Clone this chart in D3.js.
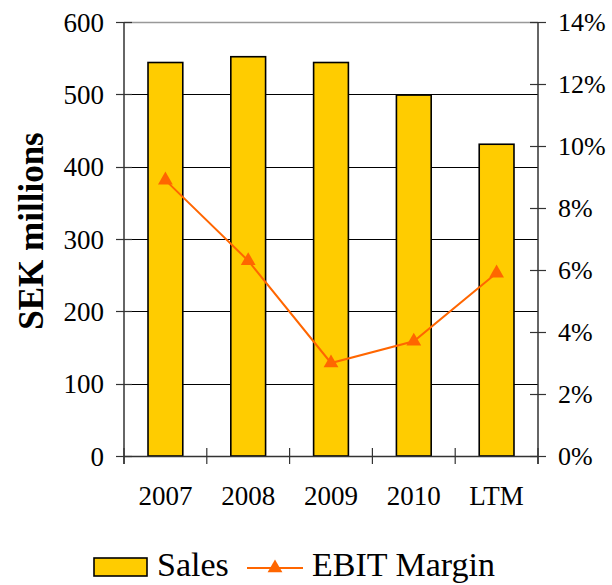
<!DOCTYPE html>
<html>
<head>
<meta charset="utf-8">
<script src="https://cdn.jsdelivr.net/npm/d3@7"></script>
<style>
  html, body { margin: 0; padding: 0; background: #fff; }
  svg { display: block; }
  text { font-family: "Liberation Serif", "DejaVu Serif", serif; fill: #000; }
</style>
</head>
<body>
<svg id="chart" width="612" height="585"></svg>
<script>
// Sales (SEK millions) and EBIT margin by period
const categories = ["2007", "2008", "2009", "2010", "LTM"];
const sales = [544, 552, 544, 499, 431];
const ebitMargin = [0.089, 0.063, 0.030, 0.037, 0.059];
const salesTicks = [0, 100, 200, 300, 400, 500, 600];
const marginTicks = [0, 0.02, 0.04, 0.06, 0.08, 0.10, 0.12, 0.14];

const svg = d3.select("#chart");
const plotLeft = 124, plotRight = 538, plotTop = 22, plotBottom = 456;

const x = d3.scaleBand().domain(categories).range([plotLeft, plotRight])
  .paddingInner(0.58).paddingOuter(0.29);
const xStep = d3.scaleBand().domain(categories).range([plotLeft, plotRight]).padding(0);
const y = d3.scaleLinear().domain([0, 600]).range([plotBottom, plotTop]);
const y2 = d3.scaleLinear().domain([0, 0.14]).range([plotBottom, plotTop]);

// horizontal gridlines
svg.append("g").selectAll("line").data(salesTicks.filter(d => d > 0)).join("line")
  .attr("x1", plotLeft).attr("x2", plotRight)
  .attr("y1", d => Math.round(y(d)) + 0.5).attr("y2", d => Math.round(y(d)) + 0.5)
  .attr("stroke", d => d === 600 ? "#999" : "#000")
  .attr("stroke-width", d => d === 600 ? 1.5 : 1);

// sales bars
svg.append("g").selectAll("rect").data(categories).join("rect")
  .attr("x", d => x(d))
  .attr("width", x.bandwidth())
  .attr("y", (d, i) => y(sales[i]))
  .attr("height", (d, i) => plotBottom - y(sales[i]))
  .attr("fill", "#FFCC00")
  .attr("stroke", "#000")
  .attr("stroke-width", 1.6);

// left axis
const leftAxis = svg.append("g").attr("transform", `translate(${plotLeft},0)`)
  .call(d3.axisLeft(y).tickValues(salesTicks).tickSize(0).tickPadding(20));
leftAxis.select(".domain").remove();
leftAxis.selectAll("text").style("font-size", "27px").attr("dy", "0.34em");
svg.append("line").attr("x1", plotLeft).attr("x2", plotLeft).attr("y1", plotTop).attr("y2", plotBottom + 8)
  .attr("stroke", "#333").attr("stroke-width", 1.5);
svg.append("g").selectAll("line").data(salesTicks).join("line")
  .attr("x1", plotLeft - 8).attr("x2", plotLeft + 8)
  .attr("y1", d => Math.round(y(d)) + 0.5).attr("y2", d => Math.round(y(d)) + 0.5)
  .attr("stroke", "#333").attr("stroke-width", 1.2);

// right axis
const rightAxis = svg.append("g").attr("transform", `translate(${plotRight},0)`)
  .call(d3.axisRight(y2).tickValues(marginTicks).tickSize(0).tickPadding(20)
    .tickFormat(d3.format(".0%")));
rightAxis.select(".domain").remove();
rightAxis.selectAll("text").style("font-size", "26px").attr("dy", "0.34em");
svg.append("line").attr("x1", plotRight).attr("x2", plotRight).attr("y1", plotTop).attr("y2", plotBottom + 8)
  .attr("stroke", "#333").attr("stroke-width", 1.5);
svg.append("g").selectAll("line").data(marginTicks).join("line")
  .attr("x1", plotRight - 8).attr("x2", plotRight + 8)
  .attr("y1", d => Math.round(y2(d)) + 0.5).attr("y2", d => Math.round(y2(d)) + 0.5)
  .attr("stroke", "#333").attr("stroke-width", 1.2);

// category axis
svg.append("line").attr("x1", plotLeft).attr("x2", plotRight)
  .attr("y1", plotBottom + 0.5).attr("y2", plotBottom + 0.5)
  .attr("stroke", "#333").attr("stroke-width", 1.5);
const boundaries = categories.map(c => xStep(c)).concat([plotRight]);
svg.append("g").selectAll("line").data(boundaries).join("line")
  .attr("x1", d => d).attr("x2", d => d)
  .attr("y1", plotBottom - 8).attr("y2", plotBottom + 8)
  .attr("stroke", "#333").attr("stroke-width", 1.2);
svg.append("g").selectAll("text").data(categories).join("text")
  .attr("x", d => x(d) + x.bandwidth() / 2)
  .attr("y", 505)
  .attr("text-anchor", "middle")
  .style("font-size", "27px")
  .text(d => d);

// EBIT margin line with triangle markers
const cx = d => x(d) + x.bandwidth() / 2;
const line = d3.line().x(d => cx(d.c)).y(d => y2(d.v));
const pts = categories.map((c, i) => ({ c, v: ebitMargin[i] }));
svg.append("path").datum(pts)
  .attr("d", line)
  .attr("fill", "none")
  .attr("stroke", "#FF6600")
  .attr("stroke-width", 2);
const tri = d3.symbol().type(d3.symbolTriangle).size(95);
svg.append("g").selectAll("path").data(pts).join("path")
  .attr("transform", d => `translate(${cx(d.c)},${y2(d.v)})`)
  .attr("d", tri)
  .attr("fill", "#FF6600");

// y-axis title
svg.append("text")
  .attr("transform", "translate(43,231) rotate(-90)")
  .attr("text-anchor", "middle")
  .style("font-size", "35px")
  .style("font-weight", "bold")
  .text("SEK millions");

// legend
const lg = svg.append("g");
lg.append("rect").attr("x", 94).attr("y", 558).attr("width", 53).attr("height", 18)
  .attr("fill", "#FFCC00").attr("stroke", "#000").attr("stroke-width", 1.6);
lg.append("text").attr("x", 157).attr("y", 576).style("font-size", "34px").text("Sales");
lg.append("line").attr("x1", 247).attr("x2", 303).attr("y1", 568).attr("y2", 568)
  .attr("stroke", "#FF6600").attr("stroke-width", 2);
lg.append("path").attr("transform", "translate(275,568)").attr("d", tri).attr("fill", "#FF6600");
lg.append("text").attr("x", 312).attr("y", 576).style("font-size", "34px").text("EBIT Margin");
</script>
</body>
</html>
